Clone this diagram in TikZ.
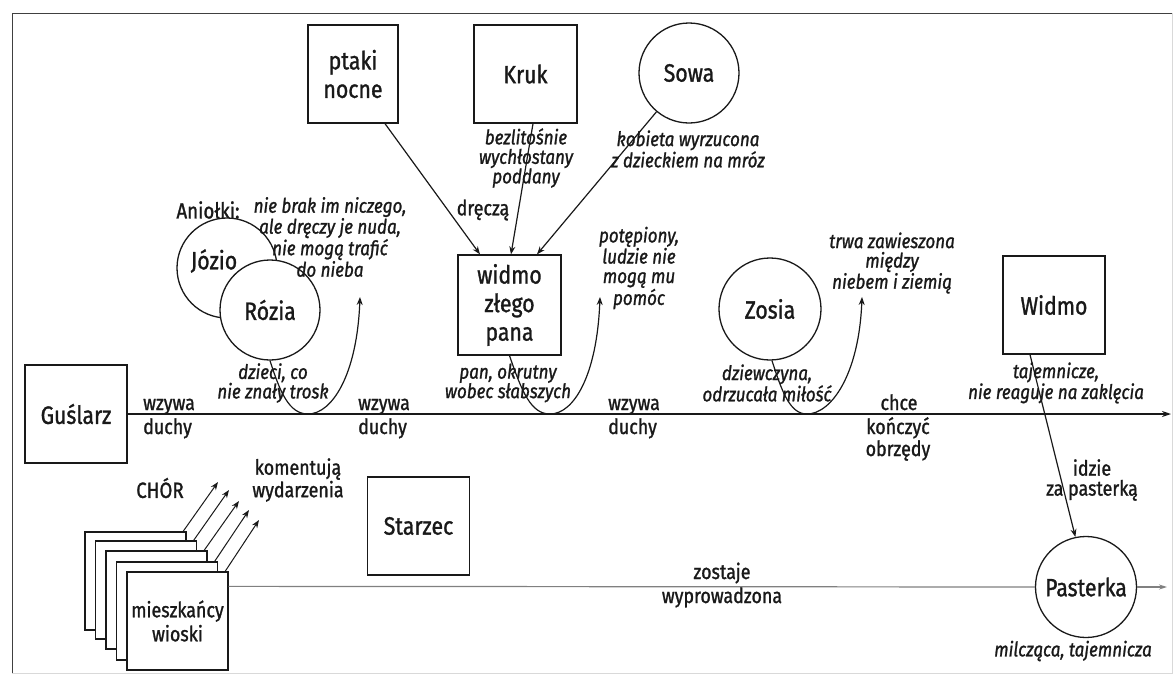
\documentclass[tikz,border=0pt]{standalone}
\usepackage{fontspec}
\setmainfont{Fira Sans}[FakeStretch=0.85, FakeBold=1.2]
\usetikzlibrary{arrows.meta,calc}
\begin{document}
\begin{tikzpicture}[x=1pt,y=-1pt,
 box/.style={draw=black!90, line width=1.3pt, minimum width=102pt, minimum height=98pt, inner sep=0pt, align=center, fill=white, font=\fontsize{25}{28.5}\selectfont, text=black!90},
 circ/.style={draw=black!90, circle, line width=1.3pt, minimum size=100pt, inner sep=0pt, align=center, fill=white, font=\fontsize{25}{28}\selectfont, text=black!90},
 mainlab/.style={inner sep=0pt, font=\fontsize{25}{28}\selectfont, text=black!90},
 capt/.style={align=center, inner sep=0pt, font=\fontsize{20}{19.5}\selectfont\itshape, text=black!90},
 lab/.style={align=center, inner sep=0pt, font=\fontsize{21}{23}\selectfont, text=black!90},
 conn/.style={draw=black!90, line width=1.2pt, -{Stealth[length=8pt,width=6pt]}},
 axisline/.style={draw=black!90, line width=2pt, -{Stealth[length=9pt,width=6pt]}},
 thinaxis/.style={draw=black!50, line width=1.2pt},
]
\useasboundingbox (0,0) rectangle (1173,678);
% frame
\draw[black!75, line width=1pt] (12,673) -- (12,13) -- (1172,13);
\draw[black!15, line width=0.8pt] (1172,13) -- (1172,673) -- (12,673);

% top row
\node[box, minimum width=90pt] (ptaki) at (353,74) {ptaki\\nocne};
\node[box, minimum width=103pt] (kruk) at (525.5,74) {Kruk};
\node[circ] (sowa) at (689,73) {Sowa};
\node[capt] (krukc) at (526,158) {bezlitośnie\\wychłostany\\poddany};
\node[capt] (sowac) at (688,149) {kobieta wyrzucona\\z dzieckiem na mróz};
\node[lab] (dre) at (483,210) {dręczą};

% widmo zlego pana
\node[box, minimum width=103pt, minimum height=100pt] (widmo) at (509.5,305) {widmo\\złego\\pana};
\draw[conn] ($(ptaki.south)+(32,0)$) -- ($(widmo.north)+(-29.5,0)$);
\draw[conn] ($(kruk.south)+(7.5,0)$) -- ($(widmo.north)+(1.5,0)$);
\draw[conn] (sowa) -- ($(widmo.north)+(27.5,0)$);
\node[capt] (widmoc) at (508,383) {pan, okrutny\\wobec słabszych};
\node[capt] (potep) at (639,268) {potępiony,\\ludzie nie\\mogą mu\\pomóc};

% Guslarz and main axis
\node[box] (guslarz) at (76,414) {Guślarz};
\coordinate (axend) at (1171,414);
\draw[axisline] (guslarz.east) -- (axend);

% Aniolki
\node[inner sep=0pt, font=\fontsize{22}{24}\selectfont, text=black!90] (aniolki) at (208,210) {Aniołki:};
\node[circ] (jozio) at (227,268) {};
\node[mainlab] (joziot) at (214,261) {Józio};
\node[circ] (rozia) at (270,310) {Rózia};
\node[capt] (aniolc) at (330,237) {nie brak im niczego,\\ale dręczy je nuda,\\nie mogą trafić\\do nieba};
\node[capt] (roziac) at (273,383) {dzieci, co\\nie znały trosk};
\coordinate (rt) at (360,297);
\draw[conn] (rozia.south) .. controls (280,392) and (289,414) .. (308,414) .. controls (332,414) and (357,375) .. (rt);
\coordinate (wt) at (600,297);
\draw[conn] (widmo.south) .. controls (522,392) and (531,414) .. (550,414) .. controls (574,414) and (597,375) .. (wt);

% wzywa duchy labels
\node[lab, anchor=base west] (w1a) at (143,410) {wzywa};
\node[lab, anchor=base west] (w1b) at (143,434) {duchy};
\node[lab, anchor=base west] (w2a) at (358,410) {wzywa};
\node[lab, anchor=base west] (w2b) at (358,434) {duchy};
\node[lab, anchor=base west] (w3a) at (608,410) {wzywa};
\node[lab, anchor=base west] (w3b) at (608,434) {duchy};
\node[lab, anchor=base] (chce) at (899,410) {chce};
\node[lab, anchor=base] (konc) at (898,434) {kończyć};
\node[lab, anchor=base] (obrz) at (898,456) {obrzędy};

% Zosia
\node[circ, minimum size=102pt] (zosia) at (770,309) {Zosia};
\node[capt] (zosiac) at (767,383) {dziewczyna,\\odrzucała miłość};
\node[capt] (trwa) at (892,263) {trwa zawieszona\\między\\niebem i ziemią};
\coordinate (zt) at (862,297);
\draw[conn] ($(zosia.south)+(2,0)$) .. controls (782,392) and (790,414) .. (807,414) .. controls (831,414) and (859,375) .. (zt);

% Widmo and Pasterka
\node[box] (widmo2) at (1054,305) {Widmo};
\node[capt] (widmo2c) at (1056,383) {tajemnicze,\\nie reaguje na zaklęcia};
\node[circ, minimum size=101pt] (pasterka) at (1086,587) {Pasterka};
\draw[conn] ($(widmo2.south)+(-24,0)$) -- (pasterka.102);
\node[lab, align=center, font=\fontsize{21}{20}\selectfont] (idzie) at (1092,480) {idzie\\za pasterką};
\node[capt] (pastc) at (1073,651) {milcząca, tajemnicza};

% Starzec
\node[box] (starzec) at (418.5,526) {Starzec};

% chor stack
\node[box, minimum width=101pt] (b1) at (135.5,581) {};
\node[box, minimum width=101pt] (b2) at (146,590) {};
\node[box, minimum width=101pt] (b3) at (156.5,600) {};
\node[box, minimum width=101pt] (b4) at (167,611) {};
\node[box, minimum width=101pt, font=\fontsize{21}{24}\selectfont] (b5) at (177.5,621) {mieszkańcy\\wioski};
\coordinate (c1) at (218,482);
\coordinate (c2) at (229,490);
\coordinate (c3) at (239,501);
\coordinate (c4) at (249,510);
\coordinate (c5) at (259,520);
\draw[conn, line width=1pt] ($(b1.north east)+(-3.5,0)$) -- (c1);
\draw[conn, line width=1pt] ($(b2.north east)+(-3.5,0)$) -- (c2);
\draw[conn, line width=1pt] ($(b3.north east)+(-3.5,0)$) -- (c3);
\draw[conn, line width=1pt] ($(b4.north east)+(-3.5,0)$) -- (c4);
\draw[conn, line width=1pt] ($(b5.north east)+(-3.5,0)$) -- (c5);
\node[inner sep=0pt, font=\fontsize{22}{24}\selectfont, text=black!90] (chor) at (160,488) {CHÓR};
\node[lab, font=\fontsize{21}{17}\selectfont] (koment) at (298,480) {komentują\\wydarzenia};

% lower axis
\coordinate (ls) at ($(b5.north east)+(0,15)$);
\coordinate (lend) at (1167,587);
\draw[thinaxis] (ls) -- (pasterka.west);
\draw[thinaxis, -{Stealth[length=8pt,width=5pt]}] (pasterka.east) -- (lend);
\node[lab, anchor=base] (zost) at (722,579) {zostaje};
\node[lab, anchor=base] (wypr) at (722,603) {wyprowadzona};
\end{tikzpicture}
\end{document}
